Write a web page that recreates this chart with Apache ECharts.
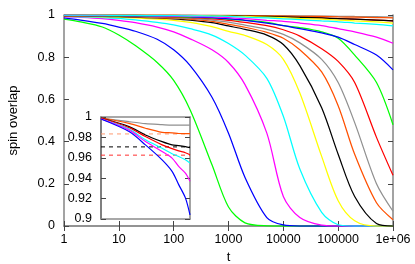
<!DOCTYPE html>
<html><head><meta charset="utf-8">
<script src="https://cdn.jsdelivr.net/npm/echarts@6/dist/echarts.min.js"></script>
<style>html,body{margin:0;padding:0;background:#fff}#c{width:415px;height:264px}</style>
</head><body><div id="c"></div>
<script>
// ---- main plot data (t on log axis) ----
const T = [1,2,5,10,20,50,100,200,500,1e3,2e3,5e3,1e4,2e4,5e4,1e5,2e5,5e5,1e6];
const G1 = [0.980,0.967,0.943,0.905,0.855,0.775,0.690,0.550,0.290,0.090,0.015,0.001,0,0,0,0,0,0,0];
const B1 = [0.986,0.976,0.960,0.943,0.923,0.885,0.835,0.760,0.610,0.440,0.230,0.040,0.005,0,0,0,0,0,0];
const M1 = [0.992,0.989,0.983,0.975,0.964,0.943,0.920,0.887,0.835,0.775,0.670,0.440,0.140,0.040,0.004,0,0,0,0];
const C1 = [0.993,0.991,0.988,0.984,0.977,0.965,0.953,0.935,0.905,0.865,0.810,0.700,0.520,0.270,0.065,0.006,0,0,0];
const Y1 = [0.994,0.993,0.991,0.990,0.986,0.980,0.975,0.965,0.945,0.922,0.903,0.860,0.790,0.630,0.330,0.120,0.025,0,0];
const K1 = [0.995,0.994,0.993,0.992,0.990,0.986,0.982,0.976,0.964,0.948,0.932,0.905,0.860,0.760,0.560,0.340,0.140,0.012,0];
const O1 = [0.996,0.995,0.994,0.993,0.991,0.988,0.985,0.980,0.970,0.956,0.942,0.918,0.890,0.835,0.730,0.570,0.340,0.110,0.030];
const A1 = [0.997,0.996,0.995,0.994,0.993,0.990,0.988,0.984,0.976,0.966,0.952,0.932,0.908,0.868,0.790,0.680,0.490,0.200,0.070];
const R1 = [0.997,0.996,0.996,0.995,0.994,0.992,0.990,0.987,0.982,0.975,0.965,0.950,0.930,0.900,0.840,0.780,0.680,0.420,0.240];
const G2 = [0.998,0.997,0.997,0.996,0.995,0.994,0.992,0.990,0.986,0.980,0.975,0.965,0.950,0.940,0.920,0.890,0.810,0.680,0.480];
const B2 = [0.998,0.998,0.997,0.997,0.996,0.995,0.994,0.992,0.988,0.982,0.975,0.962,0.950,0.935,0.915,0.895,0.860,0.810,0.740];
const M2 = [0.999,0.998,0.998,0.998,0.997,0.996,0.995,0.994,0.991,0.988,0.983,0.975,0.970,0.962,0.950,0.935,0.920,0.895,0.866];
const C2 = [0.999,0.999,0.999,0.998,0.998,0.997,0.997,0.996,0.995,0.993,0.990,0.986,0.982,0.978,0.972,0.968,0.962,0.955,0.948];
const Y2 = [0.999,0.999,0.999,0.999,0.998,0.998,0.998,0.997,0.996,0.995,0.993,0.990,0.987,0.984,0.980,0.976,0.972,0.967,0.962];
const K2 = [0.999,0.999,0.999,0.999,0.999,0.998,0.998,0.998,0.997,0.996,0.995,0.993,0.991,0.989,0.986,0.983,0.980,0.976,0.972];
const O2 = [1.000,1.000,0.999,0.999,0.999,0.999,0.999,0.998,0.998,0.998,0.997,0.996,0.995,0.994,0.993,0.991,0.990,0.988,0.986];
const A2 = [1.000,1.000,1.000,0.999,0.999,0.999,0.999,0.999,0.999,0.998,0.998,0.997,0.997,0.996,0.995,0.994,0.993,0.992,0.990];
const R2 = [0.999,0.999,0.999,0.999,0.998,0.998,0.998,0.997,0.997,0.996,0.995,0.993,0.991,0.989,0.986,0.983,0.980,0.976,0.972];
const xTickLabels = ['1','10','100','1000','10000','100000','1e+06'];
const yTickLabels = ['0','0.2','0.4','0.6','0.8','1'];

// ---- inset data ----
const IT = [1,5.3,14.1,38,68.8,102,152,200];
const I_gray    = [0.9990,0.9954,0.9935,0.9925,0.9920,0.9920,0.9920,0.9920];
const I_orange  = [0.9990,0.9938,0.9890,0.9850,0.9845,0.9838,0.9837,0.9837];
const I_black   = [0.9990,0.9906,0.9824,0.9759,0.9727,0.9720,0.9710,0.9700];
const I_red     = [0.9990,0.9896,0.9808,0.9727,0.9690,0.9668,0.9650,0.9630];
const I_cyan    = [0.9980,0.9883,0.9776,0.9694,0.9640,0.9613,0.9580,0.9548];
const I_magenta = [0.9980,0.9873,0.9759,0.9662,0.9597,0.9515,0.9450,0.9370];
const I_blue    = [0.9980,0.9857,0.9727,0.9580,0.9467,0.9337,0.9207,0.9040];
const I_dash_orange = 0.9834, I_dash_black = 0.9707, I_dash_red = 0.9626;
const insetYLabels = ['0.9','0.92','0.94','0.96','0.98','1'];

const COL = {red:'#ff0000',green:'#00ff00',blue:'#0000ff',magenta:'#ff00ff',cyan:'#00ffff',
  yellow:'#ffff00',black:'#000000',orange:'#ff5000',gray:'#909090'};
const FONT = 'Liberation Sans, Arial, sans-serif';
const FRAME = '#8c8c8c';
const TICKFS = 12.5;

const mainSeries = [
  [R2,'red'],[A2,'gray'],[O2,'orange'],[K2,'black'],[Y2,'yellow'],
  [G1,'green'],[B1,'blue'],[M1,'magenta'],[C1,'cyan'],[Y1,'yellow'],[K1,'black'],[O1,'orange'],[A1,'gray'],
  [R1,'red'],[G2,'green'],[B2,'blue'],[M2,'magenta'],[C2,'cyan']
].map(([arr,c]) => ({
  type:'line', xAxisIndex:0, yAxisIndex:0, showSymbol:false, smooth:0.3, silent:true,
  data: T.map((t,i)=>[t,arr[i]]),
  lineStyle:{color:COL[c], width:1.25}
}));

const insetSeries = [
  [I_gray,'gray'],[I_orange,'orange'],[I_black,'black'],[I_red,'red'],
  [I_cyan,'cyan'],[I_magenta,'magenta'],[I_blue,'blue']
].map(([arr,c]) => ({
  type:'line', xAxisIndex:2, yAxisIndex:2, showSymbol:false, smooth:0.3, silent:true, zlevel:1,
  data: IT.map((t,i)=>[t,arr[i]]),
  lineStyle:{color:COL[c], width:1.2}
}));
[[I_dash_orange,'#ff9a70'],[I_dash_black,'#000000'],[I_dash_red,'#ff3030']].forEach(([v,c])=>{
  insetSeries.unshift({type:'line', xAxisIndex:2, yAxisIndex:2, showSymbol:false, silent:true, zlevel:1,
    data:[[IT[0],v],[IT[IT.length-1],v]],
    lineStyle:{color:c, width:1, type:[4,4]}});
});

const axisLine = {show:true, lineStyle:{color:FRAME, width:1.6}};
const option = {
  animation:false,
  backgroundColor:'#fff',
  textStyle:{fontFamily:FONT},
  grid:[
    {left:64, top:15, width:329, height:211, show:false, containLabel:false, outerBoundsMode:'none'},
    {left:101, top:117, width:89, height:102, show:true, backgroundColor:'#fff', borderWidth:0, zlevel:1,
     containLabel:false, outerBoundsMode:'none'}
  ],
  xAxis:[
    {type:'log', logBase:10, min:1, max:1e6, gridIndex:0, position:'bottom',
     axisLine, splitLine:{show:false},
     axisTick:{inside:true, length:5, lineStyle:{color:'#444'}},
     axisLabel:{margin:7, fontSize:TICKFS, color:'#000', fontFamily:FONT,
       formatter:v=>xTickLabels[Math.round(Math.log10(v))]},
     name:'t', nameLocation:'middle', nameGap:22,
     nameTextStyle:{fontSize:13, color:'#000', fontFamily:FONT}},
    {type:'log', logBase:10, min:1, max:1e6, gridIndex:0, position:'top',
     axisLine, splitLine:{show:false},
     axisTick:{inside:true, length:5, lineStyle:{color:'#444'}}, axisLabel:{show:false}},
    {type:'log', logBase:10, min:1, max:200, gridIndex:1, position:'bottom', zlevel:1,
     axisLine, splitLine:{show:false}, axisTick:{show:false}, axisLabel:{show:false}},
    {type:'log', logBase:10, min:1, max:200, gridIndex:1, position:'top', zlevel:1,
     axisLine, splitLine:{show:false}, axisTick:{show:false}, axisLabel:{show:false}}
  ],
  yAxis:[
    {type:'value', min:0, max:1, interval:0.2, gridIndex:0, position:'left',
     axisLine, splitLine:{show:false},
     axisTick:{inside:true, length:5, lineStyle:{color:'#444'}},
     axisLabel:{margin:9, fontSize:TICKFS, color:'#000', fontFamily:FONT,
       formatter:(v)=>yTickLabels[Math.round(v*5)]},
     name:'spin overlap', nameLocation:'middle', nameGap:44,
     nameTextStyle:{fontSize:13, color:'#000', fontFamily:FONT}},
    {type:'value', min:0, max:1, interval:0.2, gridIndex:0, position:'right',
     axisLine, splitLine:{show:false},
     axisTick:{inside:true, length:5, lineStyle:{color:'#444'}}, axisLabel:{show:false}},
    {type:'value', min:0.9, max:1, interval:0.02, gridIndex:1, position:'left', zlevel:1,
     axisLine:{show:true, lineStyle:{color:'#555', width:1.5}}, splitLine:{show:false},
     axisTick:{inside:true, length:5, lineStyle:{color:'#444'}},
     axisLabel:{margin:9, fontSize:TICKFS, color:'#000', fontFamily:FONT,
       formatter:(v)=>insetYLabels[Math.round((v-0.9)*50)]}},
    {type:'value', min:0.9, max:1, interval:0.02, gridIndex:1, position:'right', zlevel:1,
     axisLine, splitLine:{show:false},
     axisTick:{inside:true, length:5, lineStyle:{color:'#444'}}, axisLabel:{show:false}}
  ],
  series: mainSeries.concat(insetSeries)
};
const chart = echarts.init(document.getElementById('c'), null, {renderer:'canvas'});
chart.setOption(option);
</script></body></html>
